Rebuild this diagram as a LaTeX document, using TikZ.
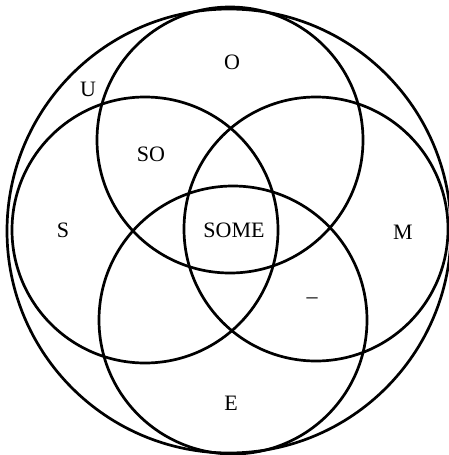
\documentclass[tikz,border=0pt]{standalone}
\usepackage{fontspec}
\setmainfont{Liberation Serif}
\usetikzlibrary{positioning}

\begin{document}
\begin{tikzpicture}[
    x=1pt, y=-1pt,
    setring/.style={
        circle,
        draw=black,
        line width=2.7pt,
        inner sep=0pt,
        outer sep=0pt
    },
    setname/.style={
        font=\fontsize{22}{26}\selectfont,
        inner sep=1pt
    }
]

\useasboundingbox (0,0) rectangle (449,455);

% universe and the four sets
\node[setring, minimum size=444pt] (universe) at (229,231) {};
\node[setring, minimum size=266pt] (setO) at (230,140) {};
\node[setring, minimum size=268pt] (setE) at (233,320) {};
\node[setring, minimum size=266pt] (setS) at (145,230) {};
\node[setring, minimum size=264pt] (setM) at (316,229) {};

% region labels
\node[setname] (labU) at (88,89) {U};
\node[setname] (labO) at (232,62) {O};
\node[setname] (labSO) at (151,154) {SO};
\node[setname] (labS) at (63,230) {S};
\node[setname] (labSOME) at (234,230) {SOME};
\node[setname] (labM) at (403,232) {M};
\node[setname] (labdash) at (312,301) {--};
\node[setname] (labE) at (231,403) {E};

\end{tikzpicture}
\end{document}
